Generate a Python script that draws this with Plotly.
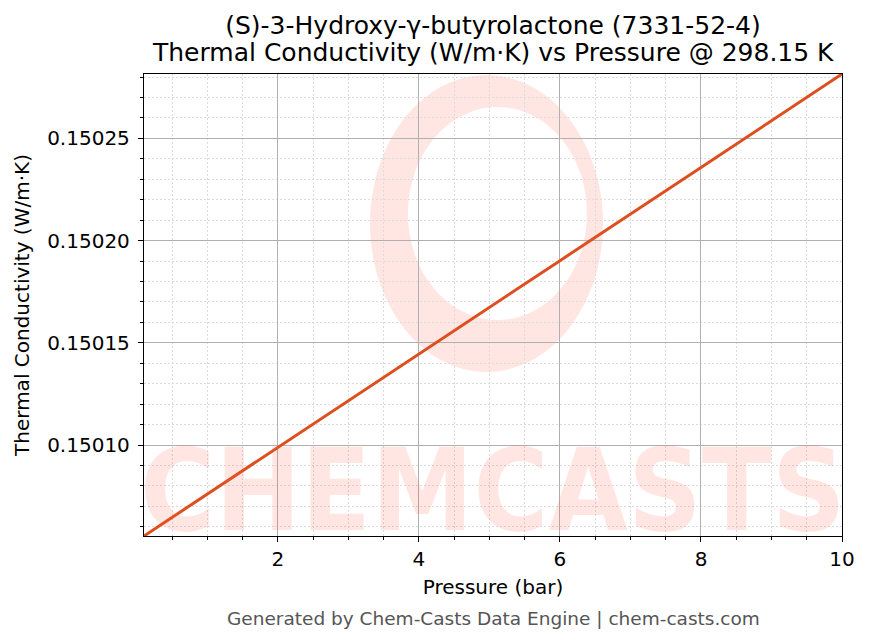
import numpy as np
import plotly.graph_objects as go

# pressure (bar) vs thermal conductivity (W/m·K) at 298.15 K
pressure = [0.1, 2, 4, 6, 8, 10]
conductivity = [0.1500555, 0.1500990, 0.1501446, 0.1501902, 0.1502358, 0.1502815]

title_lines = ["(S)-3-Hydroxy-γ-butyrolactone (7331-52-4)",
               "Thermal Conductivity (W/m·K) vs Pressure @ 298.15 K"]
footer = "Generated by Chem-Casts Data Engine | chem-casts.com"

font = "DejaVu Sans"
wm_color = "rgba(255, 85, 65, 0.15)"

fig = go.Figure()
fig.add_trace(go.Scatter(x=pressure, y=conductivity, mode="lines",
                         line=dict(color="#DD4F1E", width=3),
                         showlegend=False))


# watermark logo: crescent built from two ellipses (paper coords)
def ellipse(cx, cy, rx, ry, n=90):
    t = np.linspace(0, 2 * np.pi, n)
    pts = [f"{cx + rx * np.cos(a):.4f},{cy + ry * np.sin(a):.4f}" for a in t]
    return "M " + " L ".join(pts) + " Z"


logo_path = ellipse(0.4907, 0.6764, 0.1669, 0.3214) + " " + ellipse(0.5064, 0.6981, 0.1282, 0.2305)
fig.add_shape(type="path", path=logo_path, xref="paper", yref="paper",
              fillcolor=wm_color, fillrule="evenodd", line_width=0, layer="below")

fig.add_annotation(text="<b>CHEMCASTS</b>", xref="paper", yref="paper",
                   x=0.5, y=-0.05, xanchor="center", yanchor="bottom", showarrow=False,
                   font=dict(family="DejaVu Sans Condensed", size=114, color=wm_color))

# second title line placed separately to match the tighter line spacing
fig.add_annotation(text=title_lines[1], xref="paper", yref="paper", x=0.5, y=1.0476,
                   xanchor="center", yanchor="middle", showarrow=False,
                   font=dict(family=font, size=25, color="black"))

fig.add_annotation(text=footer, xref="paper", yref="paper", x=0.5, y=-0.152,
                   xanchor="center", yanchor="top", showarrow=False,
                   font=dict(family=font, size=18.5, color="#555555"))

axis_common = dict(showline=True, linecolor="black", linewidth=1.3, mirror=True,
                   ticks="outside", ticklen=5, tickwidth=1.2, tickcolor="black",
                   showgrid=True, gridcolor="#b0b0b0", gridwidth=0.8,
                   zeroline=False, tickfont=dict(family=font, size=20, color="black"))
minor_common = dict(ticks="outside", ticklen=3, tickwidth=1, tickcolor="black",
                    showgrid=True, gridcolor="#dcdcdc", griddash="2px,2px", gridwidth=0.6)

fig.update_xaxes(**axis_common, range=[min(pressure), max(pressure)], tick0=0, dtick=2,
                 title=dict(text="Pressure (bar)", font=dict(family=font, size=20, color="black"),
                            standoff=9),
                 minor=dict(dtick=0.5, tick0=0, **minor_common))
fig.update_yaxes(**axis_common, range=[min(conductivity), max(conductivity)],
                 tick0=0.15, dtick=0.00005, tickformat=".5f", ticklabelstandoff=4,
                 title=dict(text="Thermal Conductivity (W/m·K)",
                            font=dict(family=font, size=20, color="black"), standoff=12),
                 minor=dict(dtick=0.00001, tick0=0.15, **minor_common))

fig.update_layout(
    width=869, height=644,
    margin=dict(l=144, r=27, t=74, b=108),
    paper_bgcolor="white", plot_bgcolor="white",
    title=dict(text=title_lines[0], xref="paper", x=0.5, xanchor="center",
               y=0.961, yanchor="middle",
               font=dict(family=font, size=25, color="black")),
    font=dict(family=font),
)

fig.write_html("out.html", config={"displayModeBar": False},
               post_script="document.body.style.margin='0';")
